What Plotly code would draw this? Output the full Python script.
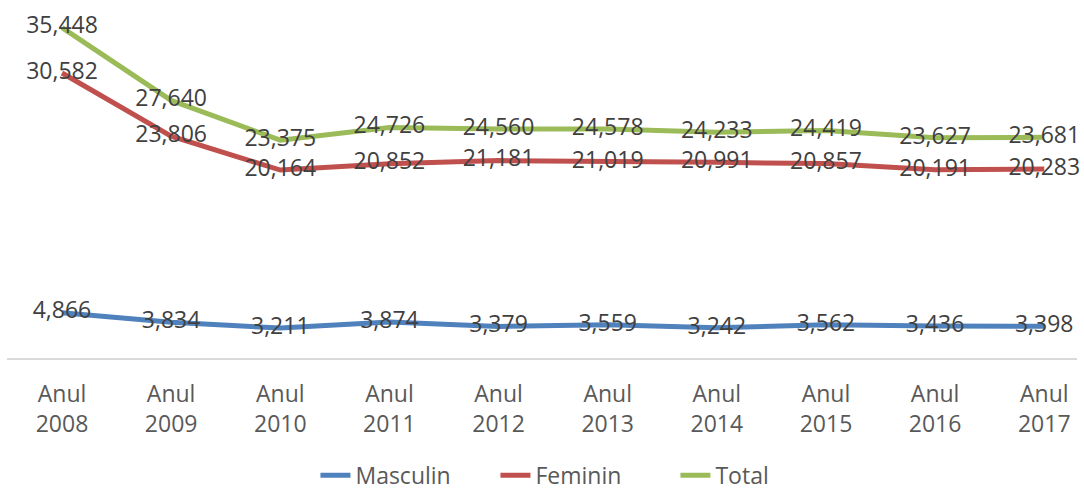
import plotly.graph_objects as go

years = ["2008", "2009", "2010", "2011", "2012", "2013", "2014", "2015", "2016", "2017"]
tick_labels = [f"Anul<br>{y}" for y in years]

masculin = [4866, 3834, 3211, 3874, 3379, 3559, 3242, 3562, 3436, 3398]
feminin = [30582, 23806, 20164, 20852, 21181, 21019, 20991, 20857, 20191, 20283]
total = [35448, 27640, 23375, 24726, 24560, 24578, 24233, 24419, 23627, 23681]

series = [
    ("Masculin", masculin, "#4f81bd"),
    ("Feminin", feminin, "#c0504d"),
    ("Total", total, "#9bbb59"),
]

FONT = "Open Sans"
x = list(range(len(years)))

fig = go.Figure()
for name, vals, color in series:
    fig.add_trace(go.Scatter(
        x=x, y=vals, name=name, mode="lines+text",
        line=dict(color=color, width=5),
        text=[f"{v:,}" for v in vals],
        textposition="middle center",
        textfont=dict(family=FONT, size=23, color="#404040"),
        cliponaxis=False,
    ))

fig.update_layout(
    width=1084, height=490,
    paper_bgcolor="white", plot_bgcolor="white",
    margin=dict(l=7, r=7, t=5, b=132),
    font=dict(family=FONT, size=23, color="#595959"),
    showlegend=True,
    legend=dict(orientation="h", xref="container", yref="container",
                x=0.291, xanchor="left", y=0.03, yanchor="middle",
                entrywidth=135, entrywidthmode="pixels",
                font=dict(family=FONT, size=23, color="#595959")),
    xaxis=dict(
        tickvals=x, ticktext=tick_labels, range=[-0.504, 9.3],
        showgrid=False, zeroline=False, showline=True, linecolor="#d9d9d9", linewidth=2,
        ticks="", ticklabelstandoff=14,
        tickfont=dict(family=FONT, size=23, color="#595959"),
    ),
    yaxis=dict(range=[0, 37876], visible=False, showgrid=False, zeroline=False),
)

# no page margin, so the 1084x490 figure fills the window exactly
fig.write_html("out.html", config={"displayModeBar": False},
               post_script="document.body.style.margin='0';document.body.style.overflow='hidden';")
